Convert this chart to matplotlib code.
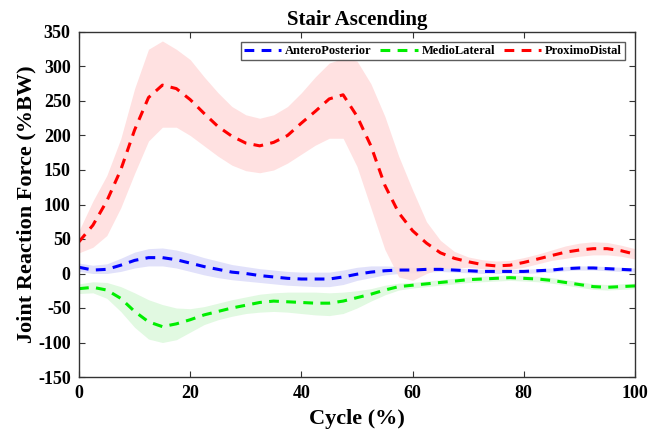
import matplotlib
matplotlib.use("Agg")
import matplotlib.pyplot as plt
import numpy as np

cycle = np.arange(0, 100.1, 2.5)

pd_mean = [46, 70, 105, 150, 208, 255, 273, 268, 252, 232, 213, 199, 189, 185, 190, 200, 218, 235, 253, 259,
           228, 185, 128, 88, 62, 44, 30, 22, 17, 13, 11, 12, 16, 21, 26, 31, 34, 36, 36, 33, 28]
pd_upper = [62, 105, 142, 195, 268, 325, 337, 325, 310, 285, 262, 242, 230, 225, 230, 242, 262, 285, 305, 312,
            308, 275, 228, 170, 121, 75, 48, 32, 24, 20, 18, 19, 23, 28, 34, 40, 44, 46, 45, 41, 36]
pd_lower = [30, 38, 55, 95, 145, 192, 212, 212, 200, 185, 170, 157, 149, 146, 150, 160, 173, 186, 196, 196,
            155, 95, 35, -5, -10, 0, 7, 8, 9, 7, 5, 6, 9, 14, 19, 22, 25, 27, 27, 25, 21]

ap_mean = [9, 5, 6, 12, 19, 23, 23, 20, 15, 10, 6, 2, 0, -3, -5, -7, -8, -8, -8, -5,
           -1, 2, 4, 5, 5, 6, 6, 5, 4, 3, 3, 3, 3, 4, 5, 7, 8, 8, 7, 6, 5]
ap_upper = [15, 12, 14, 22, 31, 36, 37, 34, 29, 23, 18, 13, 10, 7, 5, 3, 2, 2, 2, 5,
            9, 11, 11, 10, 9, 9, 9, 8, 7, 6, 6, 6, 6, 7, 8, 10, 11, 11, 10, 9, 8]
ap_lower = [3, 0, 0, 3, 8, 11, 11, 8, 3, -2, -6, -9, -11, -13, -15, -17, -18, -19, -19, -16,
            -10, -6, -2, 0, 1, 2, 3, 2, 1, 0, 0, 0, 0, 1, 2, 4, 5, 5, 4, 3, 2]

ml_mean = [-22, -20, -24, -36, -55, -70, -77, -73, -67, -60, -55, -50, -46, -42, -40, -41, -42, -43, -43, -40,
           -35, -30, -24, -19, -17, -15, -13, -11, -9, -8, -7, -6, -7, -8, -10, -13, -16, -19, -20, -19, -18]
ml_upper = [-15, -12, -13, -19, -28, -38, -45, -50, -51, -48, -43, -38, -34, -30, -28, -27, -27, -27, -28, -27,
            -25, -22, -17, -14, -13, -11, -9, -7, -5, -4, -3, -2, -3, -4, -6, -9, -12, -15, -16, -15, -14]
ml_lower = [-29, -28, -36, -55, -78, -95, -100, -96, -85, -74, -67, -62, -58, -56, -55, -56, -58, -60, -61, -58,
            -50, -40, -31, -24, -21, -19, -17, -15, -13, -12, -11, -10, -11, -12, -14, -17, -20, -23, -24, -23, -22]

labels = ["AnteroPosterior", "MedioLateral", "ProximoDistal"]
colors = ["#0000ff", "#00ee00", "#ff0000"]
band_colors = ["#dcdcfa", "#dcf8dc", "#ffdcdc"]

plt.rcParams['font.family'] = ['Liberation Serif', 'DejaVu Serif']
plt.rcParams['font.weight'] = 'bold'
plt.rcParams['axes.unicode_minus'] = False

fig = plt.figure(figsize=(6.49, 4.34), dpi=100)
ax = fig.add_axes([79/649, 1-377/434, (635-79)/649, (377-32)/434])

series = [(ap_mean, ap_upper, ap_lower), (ml_mean, ml_upper, ml_lower), (pd_mean, pd_upper, pd_lower)]
for (m, u, l), bc in zip(series, band_colors):
    ax.fill_between(cycle, l, u, color=bc, linewidth=0, alpha=0.85)
handles = []
for (m, u, l), c, lab in zip(series, colors, labels):
    h, = ax.plot(cycle, m, color=c, lw=2.2, linestyle=(0, (3.2, 2.4)), label=lab)
    handles.append(h)

ax.set_xlim(0, 100)
ax.set_ylim(-150, 350)
ax.set_xticks([0, 20, 40, 60, 80, 100])
ax.set_yticks(np.arange(-150, 351, 50))
ax.tick_params(direction='in', top=True, right=True, labelsize=13, length=4, color='#333333', pad=6)
for s in ax.spines.values():
    s.set_color('#333333')
    s.set_linewidth(1.0)
for t in ax.get_xticklabels() + ax.get_yticklabels():
    t.set_fontweight('bold')

ax.set_xlabel("Cycle (%)", fontsize=16, fontweight='bold', labelpad=5)
ax.set_ylabel("Joint Reaction Force (%BW)", fontsize=16, fontweight='bold', labelpad=1)
ax.set_title("Stair Ascending", fontsize=15, fontweight='bold', pad=5)

leg = ax.legend(handles=handles, loc='upper right', ncol=3, frameon=True, fancybox=False,
                edgecolor='#333333', handlelength=3.0, handletextpad=0.3, columnspacing=0.7,
                borderpad=0.25, borderaxespad=0.8, prop={'weight': 'bold', 'size': 9})
leg.get_frame().set_linewidth(1.0)

fig.savefig("out.png", dpi=100)
